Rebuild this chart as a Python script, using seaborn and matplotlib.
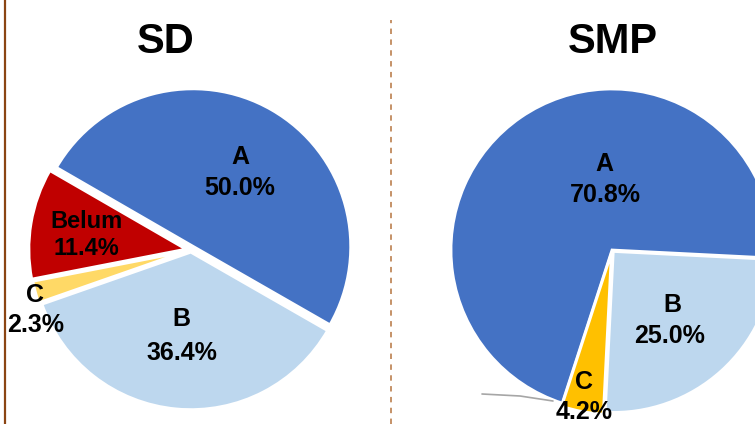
import matplotlib
matplotlib.use("Agg")
import matplotlib.pyplot as plt
import seaborn as sns
from matplotlib.lines import Line2D

# ---- data ----
titles = ["SD", "SMP"]
sd_categories = ["A", "B", "C", "Belum"]
sd_values = [50.0, 36.4, 2.3, 11.4]
smp_categories = ["A", "B", "C"]
smp_values = [70.8, 25.0, 4.2]

# ---- style ----
sns.set_theme(style="white")
plt.rcParams['font.family'] = ['Liberation Sans', 'DejaVu Sans']

sd_colors = ["#4472C4", "#BDD7EE", "#FFD966", "#C00000"]
smp_colors = ["#4472C4", "#BDD7EE", "#FFC000"]

W, H = 755, 424
fig = plt.figure(figsize=(W / 100, H / 100), dpi=100)
fig.patch.set_facecolor("white")


def make_axes(cx, cy, r, half=230):
    ax = fig.add_axes([(cx - half) / W, (H - cy - half) / H, 2 * half / W, 2 * half / H])
    ax.set_facecolor("none")
    return ax


def finish_axes(ax, r, half=230):
    L = half / r
    ax.set_xlim(-L, L)
    ax.set_ylim(-L, L)
    ax.set_aspect("equal")
    ax.axis("off")


def label(ax, cx, cy, r, px, py, text, size=18):
    # px, py: pixel position of text centre (from top-left); baseline placed at cap bottom
    ax.text((px - cx) / r, (cy - (py + size * 0.5)) / r, text, ha="center", va="baseline",
            fontsize=size, fontweight="bold", color="black")


# ---- SD pie ----
cx1, cy1, r1 = 191, 250, 158
ax1 = make_axes(cx1, cy1, r1)
ax1.pie(sd_values, colors=sd_colors, startangle=150, counterclock=False,
        explode=[0.025, 0.012, 0.022, 0.028],
        wedgeprops=dict(edgecolor="white", linewidth=2.4))
finish_axes(ax1, r1)
sd_label_pos = {"A": ((240, 155), (240, 186)),
                "B": ((181, 317), (182, 351)),
                "C": ((35, 293), (36, 323)),
                "Belum": ((86, 220), (86, 247))}
for cat, val in zip(sd_categories, sd_values):
    (nx, ny), (vx, vy) = sd_label_pos[cat]
    s = 17 if cat == "Belum" else 18
    label(ax1, cx1, cy1, r1, nx, ny, cat, s)
    label(ax1, cx1, cy1, r1, vx, vy, f"{val:.1f}%", s)

# ---- SMP pie ----
cx2, cy2, r2 = 612, 250, 161
ax2 = make_axes(cx2, cy2, r2)
ax2.pie(smp_values, colors=smp_colors, startangle=252, counterclock=False,
        explode=[0, 0.012, 0.02],
        wedgeprops=dict(edgecolor="white", linewidth=2.0))
finish_axes(ax2, r2)
smp_label_pos = {"A": ((604, 162), (605, 193)),
                 "B": ((672, 303), (670, 334)),
                 "C": ((584, 380), (584, 410))}
for cat, val in zip(smp_categories, smp_values):
    (nx, ny), (vx, vy) = smp_label_pos[cat]
    label(ax2, cx2, cy2, r2, nx, ny, cat)
    label(ax2, cx2, cy2, r2, vx, vy, f"{val:.1f}%")

# leader line near SMP "C"
fig.add_artist(Line2D([482 / W, 520 / W, 553 / W], [1 - 394 / H, 1 - 396 / H, 1 - 401 / H],
                      color="#A6A6A6", lw=1.2))

# ---- titles ----
for t, x in zip(titles, [166, 613]):
    fig.text(x / W, 1 - 53 / H, t, ha="center", va="baseline", fontsize=30,
             fontweight="bold", color="black")

# ---- frame lines ----
fig.add_artist(Line2D([5 / W, 5 / W], [0, 1], color="#8B4513", lw=1.6))
fig.add_artist(Line2D([391 / W, 391 / W], [0, 1 - 20 / H], color="#C0895C", lw=1.3,
                      linestyle=(0, (3, 3))))

fig.savefig("out.png", dpi=100, facecolor="white")
